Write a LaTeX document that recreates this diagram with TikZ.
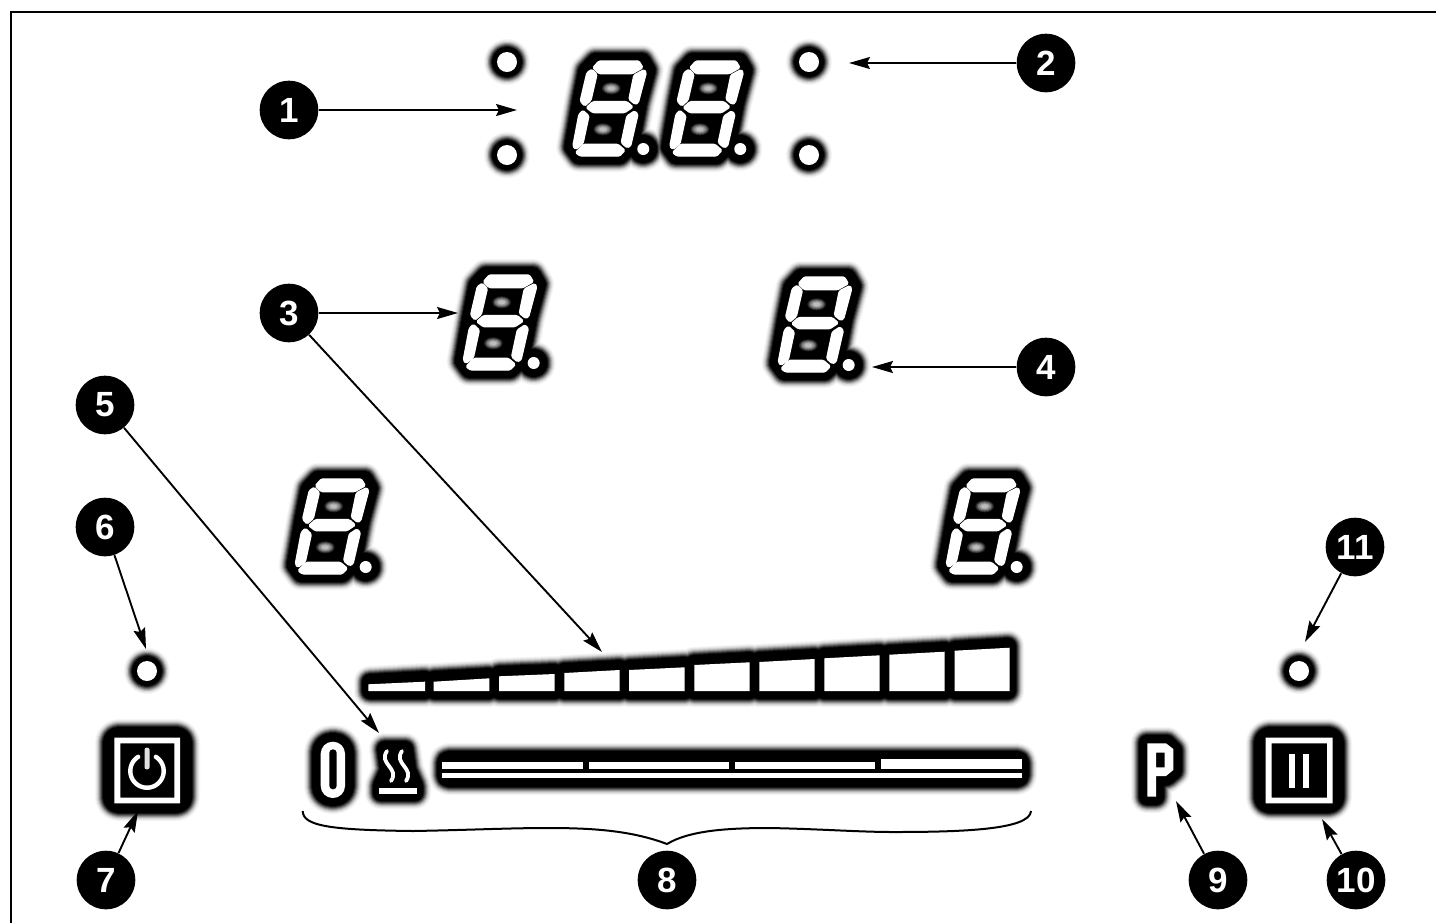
\documentclass[tikz,border=0pt]{standalone}
\usepackage{fontspec}
\setmainfont{Liberation Sans}
\usetikzlibrary{arrows.meta}
\tikzset{
  callout/.style={circle,fill=black,text=white,minimum size=29.3pt,inner sep=0pt,font=\fontsize{17.5}{20}\selectfont\bfseries},
  arr/.style={-{Stealth[length=10.5pt,width=6pt,inset=1.5pt]},line width=0.95pt,black},
  lit/.style={fill=white,draw=none},
  seg/.style={fill=white,draw=white,line width=0.7pt,line join=round,rounded corners=0.7pt}
}
% white-shape template of a digit, in 3x local coordinates
\newcommand{\digitglow}{%
  \path[gl] (138,60)--(278,60)--(294,88)--(268,185)--(243,315)--(210,345)--(88,345)--(68,318)--(92,180)--(110,90)--cycle
            (281,324) circle[radius=18];}
\newcommand{\digitwhite}{%
  \path[seg] (130,80)--(148,60)--(268,60)--(280,80)--(248,98)--(148,98)--cycle;
  \path[seg] (284,86)--(290,95)--(266,185)--(257,190)--(238,175)--(253,102)--cycle;
  \path[seg] (127,85)--(142,100)--(124,178)--(105,195)--(92,180)--(112,95)--cycle;
  \path[seg] (110,200)--(130,182)--(232,182)--(250,198)--(225,215)--(130,215)--cycle;
  \path[seg] (100,208)--(118,225)--(100,308)--(78,325)--(70,315)--(88,220)--cycle;
  \path[seg] (255,210)--(265,220)--(243,315)--(232,320)--(215,305)--(232,225)--cycle;
  \path[seg] (78,335)--(102,310)--(205,310)--(226,328)--(210,345)--(92,345)--cycle;
  \path[lit] (281,324) circle[radius=18];
  \foreach \sx/\sy in {185/142,160/265}{
    \path[fill=black!85] (\sx,\sy) ellipse[x radius=28,y radius=18];
    \path[fill=black!68] (\sx,\sy) ellipse[x radius=24,y radius=15];
    \path[fill=black!50] (\sx,\sy) ellipse[x radius=20,y radius=12];
    \path[fill=black!36] (\sx,\sy) ellipse[x radius=15,y radius=9];
    \path[fill=black!26] (\sx,\sy) ellipse[x radius=10,y radius=6];
  }}
\begin{document}
\begin{tikzpicture}[x=0.5pt,y=-0.5pt]
\useasboundingbox (0,0) rectangle (1436,923);
\fill[white] (0,0) rectangle (1436,923);
% glow layers: outermost first, every item in each layer
\foreach \r/\k in {16/4,15/9,14/16,13/27,12/42,11/58,10/74,9/90,8/100}{
  \tikzset{gl/.style={draw=black!\k,fill=black!\k,line width=\r pt,line join=round}}
  \foreach \ox/\oy in {549.6/41,646.6/41,440/255,755/257,272/459,923/459}{
    \begin{scope}[shift={(\ox,\oy)},scale=0.33333]\digitglow\end{scope}
  }
  \foreach \cx/\cy in {507/62,507/155,809/62,809/155,147/671,1299/671}{
    \path[gl] (\cx,\cy) circle[radius=7];
  }
  % bar graph
  \path[gl] (370,682)--(425,679)--(425,691)--(370,691)--cycle
            (434,679)--(489,676)--(489,691)--(434,691)--cycle
            (499,674)--(555,672)--(555,691)--(499,691)--cycle
            (564,671)--(620,668)--(620,691)--(564,691)--cycle
            (629,668)--(685,665)--(685,691)--(629,691)--cycle
            (694,663)--(750,660)--(750,691)--(694,691)--cycle
            (759,660)--(815,657)--(815,691)--(759,691)--cycle
            (824,656)--(880,653)--(880,691)--(824,691)--cycle
            (889,653)--(945,650)--(945,691)--(889,691)--cycle
            (955,649)--(1008,646)--(1008,691)--(955,691)--cycle;
  % zero, steam, long bar
  \path[gl,rounded corners=6pt] (320,741) rectangle (346,798);
  \path[gl] (385,749)--(405,749)--(408,770)--(415,786)--(415,793)--(381,793)--(381,786)--(388,770)--cycle;
  \path[gl,rounded corners=2pt] (445,759) rectangle (1021,779);
  % P
  \path[gl] (1147,743)--(1167,743)--(1174,750)--(1174,771)--(1167,777)--(1156,780)--(1156,797)--(1147,797)--cycle;
  % buttons
  \path[gl,rounded corners=4pt] (111,735) rectangle (184,805);
  \path[gl,rounded corners=4pt] (1262,735) rectangle (1336,805);
}
% digits
\foreach \ox/\oy in {549.6/41,646.6/41,440/255,755/257,272/459,923/459}{
  \begin{scope}[shift={(\ox,\oy)},scale=0.33333]\digitwhite\end{scope}
}
% LEDs
\foreach \cx/\cy in {507/62,507/155,809/62,809/155,147/671,1299/671}{
  \path[lit] (\cx,\cy) circle[radius=10];
}
% bar graph
\path[lit] (368.3,684.3)--(425,681.7)--(425,691)--(368.3,691)--cycle;
\path[lit] (433.7,681.7)--(489.3,678.3)--(489.3,691)--(433.7,691)--cycle;
\path[lit] (499,676.3)--(554.7,674)--(554.7,691)--(499,691)--cycle;
\path[lit] (564.3,673)--(619.7,670)--(619.7,691)--(564.3,691)--cycle;
\path[lit] (629,670)--(684.7,667.3)--(684.7,691)--(629,691)--cycle;
\path[lit] (694.3,665)--(749.7,662.3)--(749.7,691)--(694.3,691)--cycle;
\path[lit] (759.3,662)--(814.7,659)--(814.7,691)--(759.3,691)--cycle;
\path[lit] (824.3,658.3)--(879.7,655.3)--(879.7,691)--(824.3,691)--cycle;
\path[lit] (889.3,654.7)--(944.7,651.7)--(944.7,691)--(889.3,691)--cycle;
\path[lit] (954.7,650.7)--(1009.7,647.7)--(1009.7,691)--(954.7,691)--cycle;
% zero
\path[lit,rounded corners=6pt] (320.7,741.7) rectangle (345,798);
\path[fill=black,rounded corners=1.8pt] (329.3,749.3) rectangle (336.7,789.3);
% steam
\path[lit] (379.3,788) rectangle (417.3,793.7);
\draw[white,line width=1.9pt,line cap=round] (387,751) .. controls (378,764) and (400,768) .. (391,781);
\draw[white,line width=1.9pt,line cap=round] (402,751) .. controls (393,764) and (415,768) .. (406,781);
% long bar
\path[lit] (442.3,772.7) rectangle (1021.7,778);
\path[lit] (442.3,762.3) rectangle (582.7,768.7);
\path[lit] (589,762.3) rectangle (729,768.7);
\path[lit] (735,762.3) rectangle (875,768.7);
\path[lit] (881.3,759.3) rectangle (1021.7,769);
% P
\path[lit,even odd rule] (1147.3,743.3)--(1166,743.3)--(1173.3,749)--(1173.3,770)--(1166,776)--(1156,776)--(1156,796.7)--(1147.3,796.7)--cycle
  (1156,752.7)--(1164.7,752.7)--(1164.7,767.3)--(1156,767.3)--cycle;
% power button
\path[lit,even odd rule] (114.3,737.7) rectangle (180,803.3) (120.3,743.3) rectangle (174.3,797.7);
\draw[white,line width=2.2pt,line cap=round] plot[domain=32:328,samples=50] ({147+16.7*sin(\x)},{771-16.7*cos(\x)});
\path[fill=black!12,rounded corners=1pt] (144.5,747.7) rectangle (149.5,769.3);
% pause button
\path[lit,even odd rule] (1265.7,737.7) rectangle (1332.7,803.3) (1271.7,743.3) rectangle (1327,797.7);
\path[lit] (1289.3,754) rectangle (1295,787.7);
\path[lit] (1303.3,754) rectangle (1309,787.7);
% frame
\draw[black,line width=1pt] (10.5,923) -- (10.5,11.5) -- (1436,11.5);
% brace
\draw[black,line width=1pt] (302.7,811) .. controls (303,826) and (330,830) .. (413,831)
  .. controls (470,830) and (510,828) .. (547,828) .. controls (590,828) and (630,830) .. (667,844)
  .. controls (690,830) and (730,828) .. (770,828) .. controls (820,829) and (860,832) .. (893,832)
  .. controls (960,832) and (1030,830) .. (1031,811);
% callouts
\node[callout] (n1) at (289,110) {1};
\node[callout] (n2) at (1046,63) {2};
\node[callout] (n3) at (289,313) {3};
\node[callout] (n4) at (1046,367) {4};
\node[callout] (n5) at (105,405) {5};
\node[callout] (n6) at (105,527) {6};
\node[callout] (n7) at (106,880) {7};
\node[callout] (n8) at (667,880) {8};
\node[callout] (n9) at (1218,880) {9};
\node[callout] (n10) at (1356,880) {10};
\node[callout] (n11) at (1355,547) {11};
\coordinate (t1) at (517,110);
\coordinate (t2) at (849,63);
\coordinate (t3a) at (458,313);
\coordinate (t3b) at (602,652);
\coordinate (t4) at (872,367);
\coordinate (t5) at (379,733);
\coordinate (t6) at (146,649);
\coordinate (t7) at (138,811);
\coordinate (t9) at (1176,801);
\coordinate (t10) at (1322,819);
\coordinate (t11) at (1305,642);
\draw[arr] (n1) -- (t1);
\draw[arr] (n2) -- (t2);
\draw[arr] (n3) -- (t3a);
\draw[arr] (n3) -- (t3b);
\draw[arr] (n4) -- (t4);
\draw[arr] (n5) -- (t5);
\draw[arr] (n6) -- (t6);
\draw[arr] (n7) -- (t7);
\draw[arr] (n9) -- (t9);
\draw[arr] (n10) -- (t10);
\draw[arr] (n11) -- (t11);
\end{tikzpicture}
\end{document}
